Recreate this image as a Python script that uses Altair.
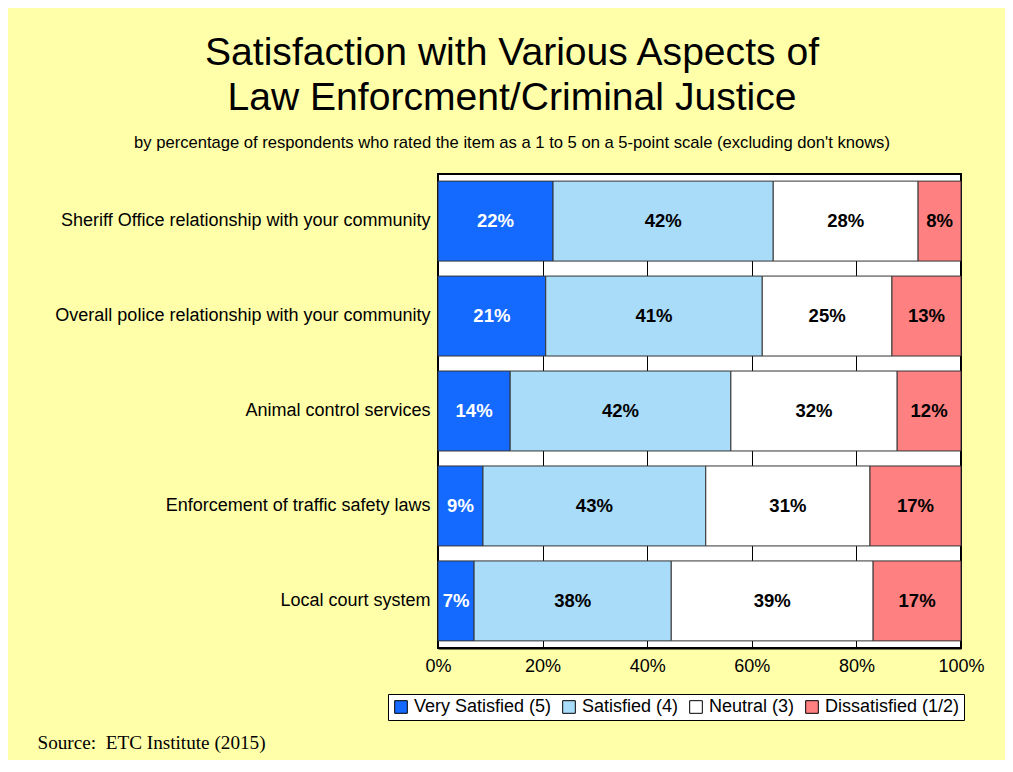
import altair as alt
import pandas as pd

items = [
    "Sheriff Office relationship with your community",
    "Overall police relationship with your community",
    "Animal control services",
    "Enforcement of traffic safety laws",
    "Local court system",
]
categories = ["Very Satisfied (5)", "Satisfied (4)", "Neutral (3)", "Dissatisfied (1/2)"]
very_satisfied = [22.0, 20.6, 13.8, 8.6, 6.9]
satisfied = [42.1, 41.4, 42.2, 42.6, 37.7]
neutral = [27.7, 24.8, 31.8, 31.4, 38.6]
dissatisfied = [8.2, 13.2, 12.2, 17.4, 16.8]
colors = ["#1469FF", "#A9DCF8", "#FFFFFF", "#FF8080"]
x_ticks = [0, 20, 40, 60, 80, 100]

rows = []
for i, item in enumerate(items):
    for k, (cat, series) in enumerate(zip(categories, [very_satisfied, satisfied, neutral, dissatisfied])):
        rows.append({"item": item, "cat": cat, "order": k, "value": series[i]})
df = pd.DataFrame(rows)

base = alt.Chart(df).transform_stack(
    stack="value", groupby=["item"], sort=[alt.SortField("order")], as_=["x0", "x1"]
).transform_calculate(
    mid="(datum.x0 + datum.x1) / 2", label="format(datum.value, '.0f') + '%'"
)

y_enc = alt.Y(
    "item:N", sort=items, title=None,
    scale=alt.Scale(paddingInner=0.158, paddingOuter=0.075),
    axis=alt.Axis(domain=False, ticks=False, labelPadding=8, labelFontSize=18,
                  labelColor="black", labelLimit=600, labelFont="Liberation Sans"),
)

bars = base.mark_bar(stroke="#333333", strokeWidth=1).encode(
    x=alt.X(
        "x0:Q",
        scale=alt.Scale(domain=[0, 100], nice=False),
        title="Source:\u00a0 ETC Institute (2015)",
        axis=alt.Axis(
            values=x_ticks, labelExpr="datum.value + '%'", labelFontSize=18,
            labelColor="black", labelPadding=9, labelFlush=False, ticks=False,
            domainColor="black", domainWidth=2, grid=True, gridColor="black", gridWidth=1,
            gridDash=[467, 20],
            titleFont="Liberation Serif", titleFontSize=19.2, titleFontWeight="normal",
            titleColor="black", titleAlign="left", titleBaseline="alphabetic",
            titleAnchor="start", titleX=-401, titleY=100,
        ),
    ),
    x2="x1:Q",
    y=y_enc,
    color=alt.Color(
        "cat:N",
        scale=alt.Scale(domain=categories, range=colors),
        legend=alt.Legend(
            title=None, orient="none", legendX=-50, legendY=520, direction="horizontal",
            fillColor="white", strokeColor="black", padding=4, symbolType="square",
            symbolSize=160, symbolStrokeColor="black", symbolStrokeWidth=1,
            labelFontSize=18, labelColor="black", columnPadding=8, labelOffset=4,
            labelFont="Liberation Sans",
        ),
    ),
    order=alt.Order("order:Q"),
)

text = base.mark_text(fontSize=18.5, fontWeight="bold", font="Liberation Sans").encode(
    x=alt.X("mid:Q"),
    y=alt.Y("item:N", sort=items),
    text="label:N",
    color=alt.condition(alt.datum.cat == "Very Satisfied (5)", alt.value("white"), alt.value("black")),
)

chart = alt.layer(bars, text).properties(
    width=523,
    height=474,
    padding={"left": 430, "top": 166, "right": 44, "bottom": 112},
    autosize=alt.AutoSizeParams(type="none"),
    background="#FFFFAA",
    view=alt.ViewBackground(fill="white", stroke="black", strokeWidth=2),
    title=alt.TitleParams(
        text=["Satisfaction with Various Aspects of", "Law Enforcment/Criminal Justice"],
        subtitle="by percentage of respondents who rated the item as a 1 to 5 on a 5-point scale (excluding don't knows)",
        font="Liberation Sans", fontSize=39.1, fontWeight="normal", color="black",
        lineHeight=45, anchor="middle", frame="group", dx=-187.5, offset=22,
        subtitleFont="Liberation Sans", subtitleFontSize=16.6, subtitleColor="black",
        subtitlePadding=17,
    ),
).configure_view(stroke="black", strokeWidth=2, fill="white").configure(font="Liberation Sans")

chart.save("out.html", embed_options={"renderer": "svg", "actions": False})
